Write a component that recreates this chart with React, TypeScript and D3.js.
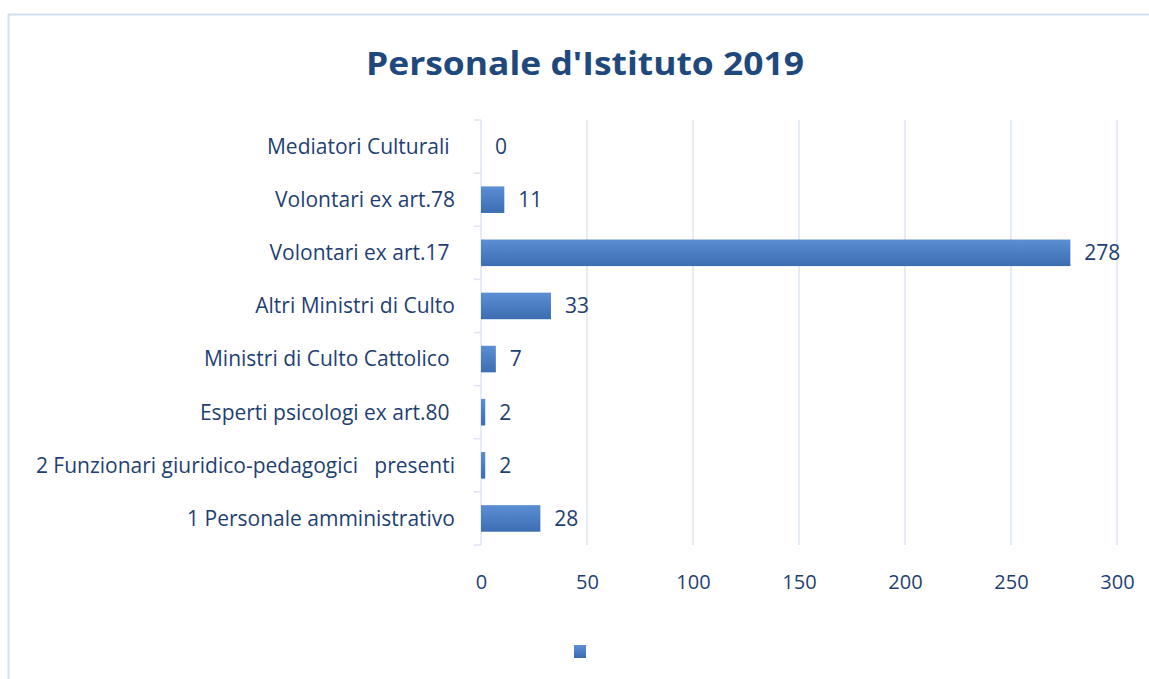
import { useEffect, useRef } from "react";
import { scaleBand, scaleLinear, select, axisBottom } from "d3";

const categories = [
  "Mediatori Culturali ",
  "Volontari ex art.78",
  "Volontari ex art.17 ",
  "Altri Ministri di Culto",
  "Ministri di Culto Cattolico ",
  "Esperti psicologi ex art.80 ",
  "2 Funzionari giuridico-pedagogici   presenti",
  "1 Personale amministrativo",
];
const values = [0, 11, 278, 33, 7, 2, 2, 28];
const ticks = [0, 50, 100, 150, 200, 250, 300];

const W = 1149;
const H = 679;
const textColor = "#1F3F73";
const gridColor = "#DCE6F2";
const font = "'Open Sans', Lato, sans-serif";

export default function App() {
  const svgRef = useRef<SVGSVGElement>(null);

  useEffect(() => {
    const svg = select(svgRef.current);
    svg.selectAll("*").remove();

    const left = 481, right = 1117, top = 120, bottom = 545;

    const xScale = scaleLinear().domain([0, 300]).range([left, right]);
    const yScale = scaleBand()
      .domain(categories)
      .range([top, bottom])
      .paddingInner(0.5)
      .paddingOuter(0.25);

    const defs = svg.append("defs");
    const grad = defs.append("linearGradient")
      .attr("id", "barGrad")
      .attr("x1", 0).attr("y1", 0).attr("x2", 0).attr("y2", 1);
    grad.append("stop").attr("offset", "0%").attr("stop-color", "#5B8ED3");
    grad.append("stop").attr("offset", "100%").attr("stop-color", "#3C6DB3");

    // frame
    svg.append("path")
      .attr("d", `M8.5,${H} V14.5 H${W}`)
      .attr("fill", "none")
      .attr("stroke", "#D3DFEF")
      .attr("stroke-width", 2);

    // title
    svg.append("text")
      .attr("x", 585)
      .attr("y", 75)
      .attr("text-anchor", "middle")
      .attr("font-family", font)
      .attr("font-weight", "bold")
      .attr("font-size", 33)
      .attr("textLength", 438)
      .attr("lengthAdjust", "spacingAndGlyphs")
      .attr("fill", "#1F497D")
      .text("Personale d'Istituto 2019");

    // gridlines
    svg.selectAll(".grid")
      .data(ticks.slice(1))
      .join("line")
      .attr("class", "grid")
      .attr("x1", d => xScale(d)).attr("x2", d => xScale(d))
      .attr("y1", top).attr("y2", bottom)
      .attr("stroke", gridColor)
      .attr("stroke-width", 1.5);

    // x axis labels
    const xAxis = svg.append("g")
      .attr("transform", `translate(0,${bottom})`)
      .call(axisBottom(xScale).tickValues(ticks).tickSize(0).tickPadding(30));
    xAxis.select(".domain").remove();
    xAxis.selectAll("text")
      .attr("font-family", font)
      .attr("font-size", 20)
      .attr("fill", textColor);

    // category axis line and ticks
    svg.append("line")
      .attr("x1", left).attr("x2", left)
      .attr("y1", top).attr("y2", bottom)
      .attr("stroke", gridColor)
      .attr("stroke-width", 1.5);
    const step = yScale.step();
    const boundaries = categories.map((c, i) => top + i * step).concat([bottom]);
    svg.selectAll(".ytick")
      .data(boundaries)
      .join("line")
      .attr("class", "ytick")
      .attr("x1", left - 7).attr("x2", left)
      .attr("y1", d => d).attr("y2", d => d)
      .attr("stroke", gridColor)
      .attr("stroke-width", 1.5);

    // bars
    svg.selectAll(".bar")
      .data(values)
      .join("rect")
      .attr("class", "bar")
      .attr("x", left)
      .attr("y", (d, i) => yScale(categories[i])!)
      .attr("height", yScale.bandwidth())
      .attr("width", d => xScale(d) - left)
      .attr("fill", "url(#barGrad)");

    // category labels
    svg.selectAll(".cat")
      .data(categories)
      .join("text")
      .attr("class", "cat")
      .attr("x", 455)
      .attr("y", d => yScale(d)! + yScale.bandwidth() / 2)
      .attr("dy", "0.35em")
      .attr("text-anchor", "end")
      .attr("font-family", font)
      .attr("font-size", 21)
      .attr("fill", textColor)
      .style("white-space", "pre")
      .text(d => d);

    // value labels
    svg.selectAll(".val")
      .data(values)
      .join("text")
      .attr("class", "val")
      .attr("x", d => xScale(d) + 14)
      .attr("y", (d, i) => yScale(categories[i])! + yScale.bandwidth() / 2)
      .attr("dy", "0.35em")
      .attr("font-family", font)
      .attr("font-size", 21)
      .attr("fill", textColor)
      .text(d => d);

    // legend marker
    svg.append("rect")
      .attr("x", 574).attr("y", 645)
      .attr("width", 12).attr("height", 13)
      .attr("fill", "url(#barGrad)");
  }, []);

  return (
    <div style={{ position: "absolute", left: 0, top: 0 }}>
      <svg ref={svgRef} width={W} height={H} style={{ display: "block", background: "#fff" }} />
    </div>
  );
}
